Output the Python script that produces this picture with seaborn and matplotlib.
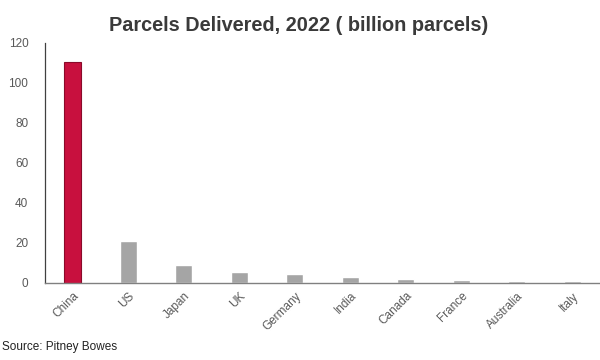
"""
Parcels delivered by country, 2022
"""
import matplotlib
matplotlib.use('Agg')
import matplotlib.pyplot as plt
import seaborn as sns
import pandas as pd

countries = ['China', 'US', 'Japan', 'UK', 'Germany', 'India',
             'Canada', 'France', 'Australia', 'Italy']
parcels = [110.6, 21.2, 9.2, 5.4, 4.3, 3.0, 1.8, 1.5, 1.1, 1.1]
y_ticks = [0, 20, 40, 60, 80, 100, 120]

highlight = '#C8103E'
grey = '#A5A5A5'

sns.set_style('white')
plt.rcParams['font.family'] = ['Liberation Sans', 'DejaVu Sans']

df = pd.DataFrame({'country': countries, 'parcels': parcels})
palette = {c: (highlight if c == 'China' else grey) for c in countries}

fig = plt.figure(figsize=(6, 3.6), dpi=100)
ax = fig.add_axes([0.075, 0.214, 0.925, 0.667])

sns.barplot(data=df, x='country', y='parcels', hue='country',
            palette=palette, width=0.3, legend=False, ax=ax,
            saturation=1)
ax.patches[0].set_edgecolor('#8A0A2A')
ax.patches[0].set_linewidth(0.8)

ax.set_xlim(-0.5, len(countries) - 0.5)
ax.set_ylim(0, 120)
ax.set_yticks(y_ticks)
ax.tick_params(axis='y', length=0, pad=12, labelsize=8.5, labelcolor='#595959')
ax.tick_params(axis='x', length=0, pad=5, labelsize=8.5, labelcolor='#595959')
plt.setp(ax.get_xticklabels(), rotation=45, ha='right', rotation_mode='anchor')
ax.set_xlabel('')
ax.set_ylabel('')

sns.despine(ax=ax)
ax.spines['left'].set_color('#404040')
ax.spines['left'].set_linewidth(0.9)
ax.spines['bottom'].set_color('#808080')
ax.spines['bottom'].set_linewidth(1.0)

fig.text(0.497, 0.93, 'Parcels Delivered, 2022 ( billion parcels)',
         ha='center', va='center', fontsize=14.3, fontweight='bold',
         color='#3A3A3A')
fig.text(0.003, 0.035, 'Source: Pitney Bowes', ha='left', va='center',
         fontsize=8.5, color='#222222')

plt.savefig('out.png', dpi=100)
plt.close()
